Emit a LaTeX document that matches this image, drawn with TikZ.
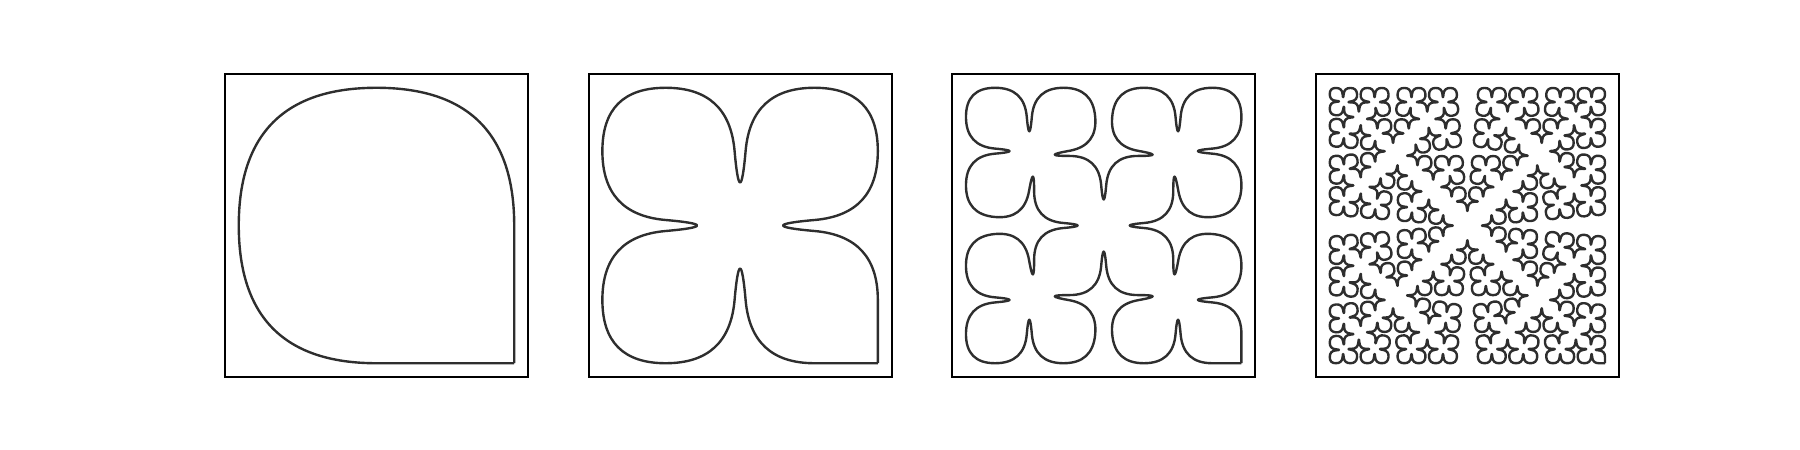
\documentclass[tikz,border=0pt]{standalone}
\usetikzlibrary{positioning, calc}

% turtle for the torn square (85 degree Koch sides)
\newcount\cesarocnt
\def\cratio{0.459914}
\newcommand\cturn[1]{\pgfmathsetmacro\ctmp{\turtH+#1}\xdef\turtH{\ctmp}}
\newcommand\cstep[1]{%
  \pgfmathsetmacro\ctmpx{\turtX+#1*cos(\turtH)}%
  \pgfmathsetmacro\ctmpy{\turtY+#1*sin(\turtH)}%
  \xdef\turtX{\ctmpx}\xdef\turtY{\ctmpy}%
  \global\advance\cesarocnt by 1
  \edef\cname{p\the\cesarocnt}%
  \coordinate (\cname) at (\turtX,\turtY);}
\newcommand\cside[2]{%
  \ifnum#1=0 \cstep{#2}%
  \else
    \pgfmathtruncatemacro\cdepth{#1-1}%
    \pgfmathsetmacro\clen{#2*\cratio}%
    \edef\cdo{\noexpand\cside{\cdepth}{\clen}}%
    \begingroup\cdo\endgroup\cturn{85}%
    \begingroup\cdo\endgroup\cturn{-170}%
    \begingroup\cdo\endgroup\cturn{85}%
    \begingroup\cdo\endgroup
  \fi}
\newcommand\cesaro[1]{%
  \global\cesarocnt=0
  \xdef\turtX{1}\xdef\turtY{0}\xdef\turtH{90}%
  \coordinate (p0) at (1,0);
  \foreach \s in {1,...,4}{\cside{#1}{1}\cturn{90}}%
  \edef\cN{\the\cesarocnt}%
  \pgfmathtruncatemacro\clast{\cesarocnt-1}%
  \draw[curve] (p0) -- ($(p0)!.5!(p1)$)
    foreach \i [evaluate=\i as \h using int(\i-1), evaluate=\i as \j using int(\i+1)] in {1,...,\clast}
    { .. controls ($(p\h)!5/6!(p\i)$) and ($(p\j)!5/6!(p\i)$) .. ($(p\i)!.5!(p\j)$) }
    -- (p\cN);}

\begin{document}
\begin{tikzpicture}[
  axbox/.style={draw=black, line width=0.6pt, minimum size=3.03cm,
                inner sep=0pt, outer sep=0pt},
  curve/.style={draw=black!82, line width=0.68pt, line join=round},
]
\useasboundingbox (0,0) rectangle (18,4.5);

% ---- Axes frames ----
\node[axbox] (ax1) at (3.765,2.245) {};
\node[axbox, right=0.606cm of ax1] (ax2) {};
\node[axbox, right=0.606cm of ax2] (ax3) {};
\node[axbox, right=0.606cm of ax3] (ax4) {};

% ---- Curves: depth 0, 1, 2 and 4 ----
\foreach \k/\lev in {1/0, 2/1, 3/2, 4/4}{
  \begin{scope}[shift={($(ax\k.south west)+(0.1377,0.1377)$)}, x=2.7545cm, y=2.7545cm]
    \cesaro{\lev}
  \end{scope}
}

\end{tikzpicture}
\end{document}
